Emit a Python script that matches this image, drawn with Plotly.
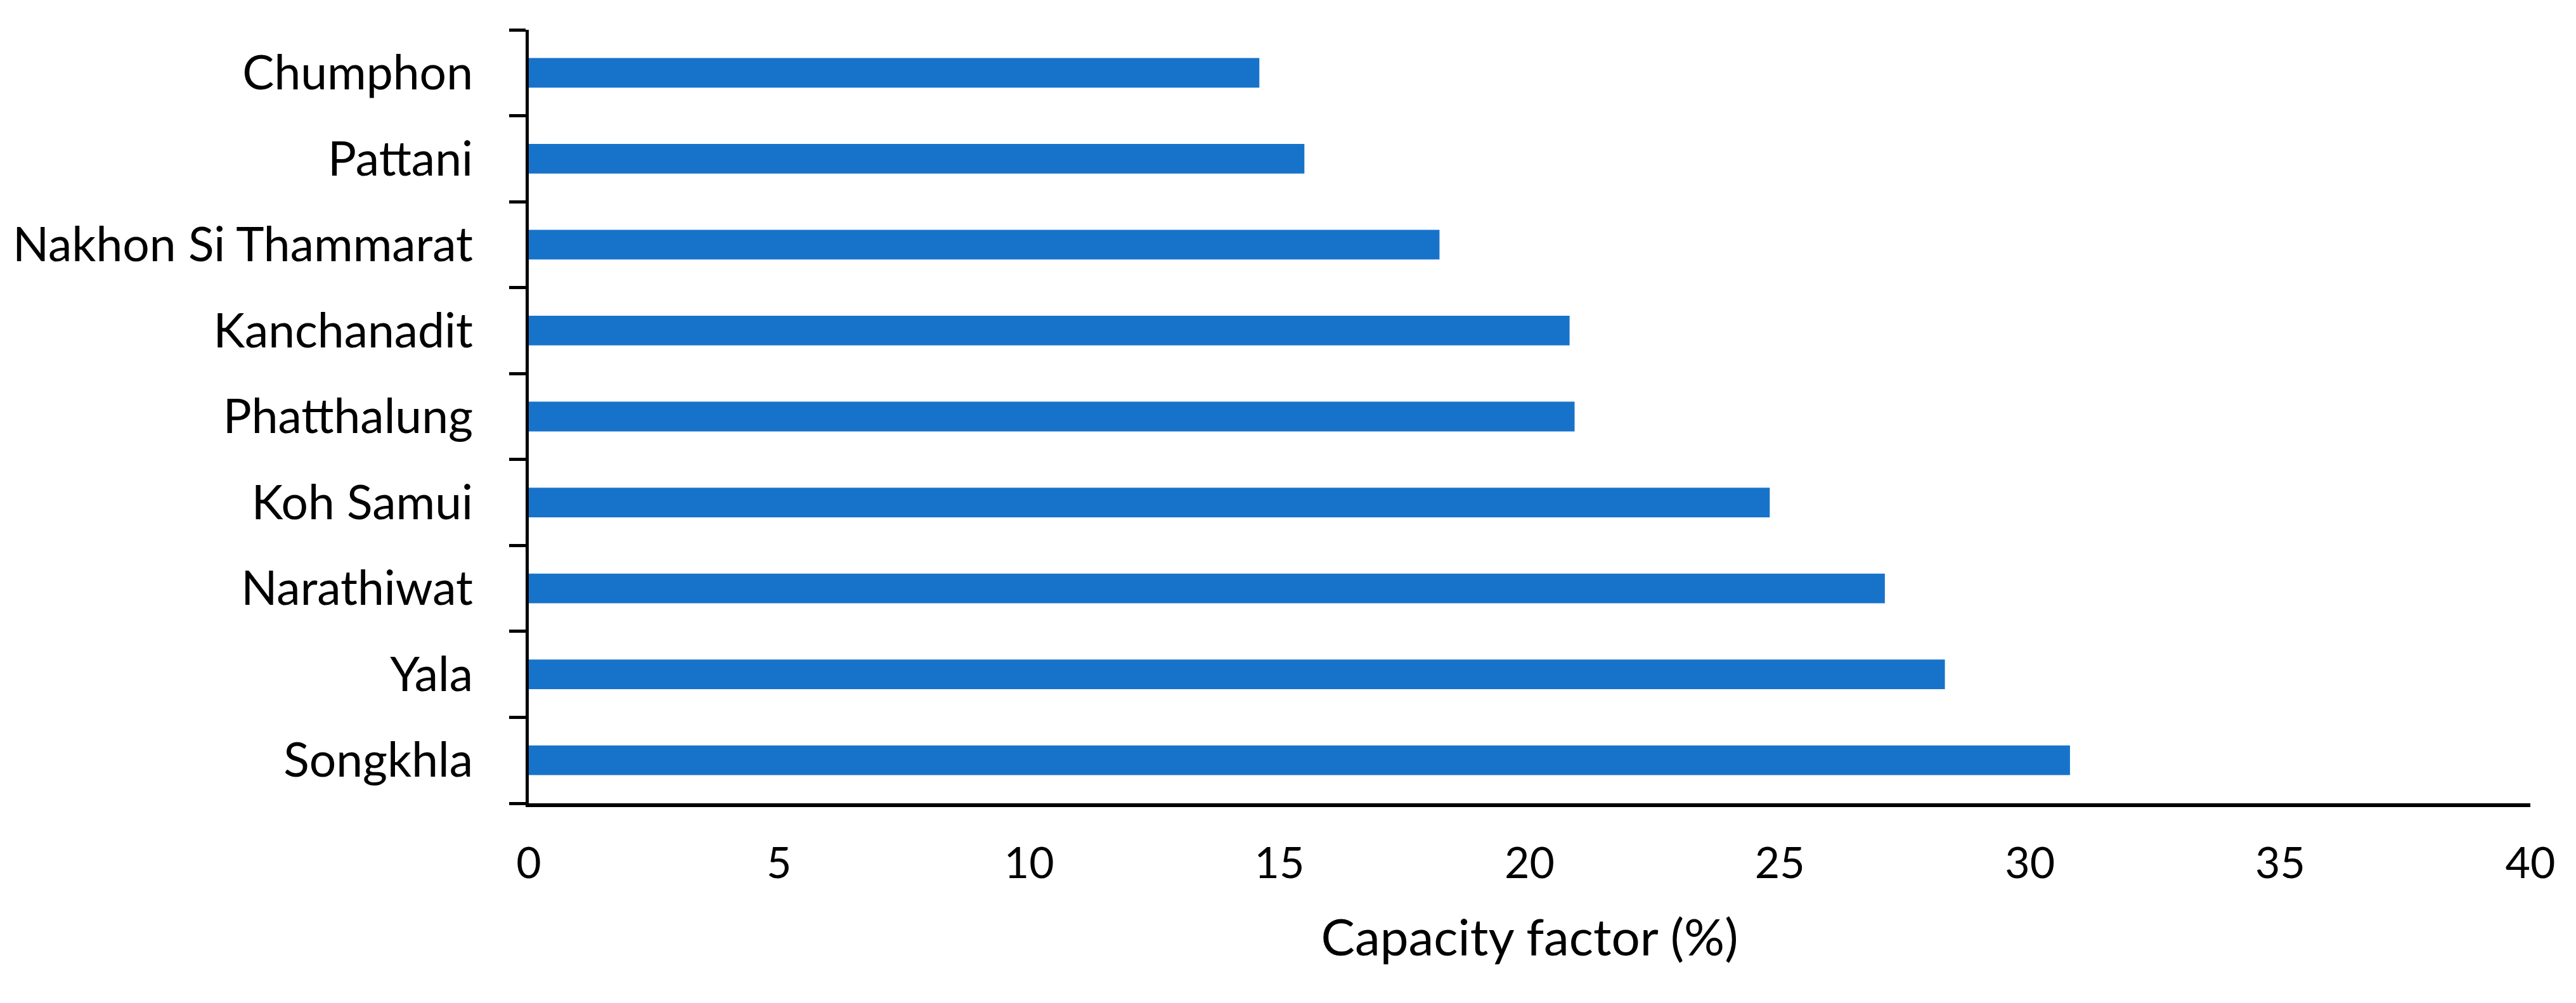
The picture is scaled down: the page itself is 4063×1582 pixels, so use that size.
import plotly.graph_objects as go

regions = ["Songkhla", "Yala", "Narathiwat", "Koh Samui", "Phatthalung",
           "Kanchanadit", "Nakhon Si Thammarat", "Pattani", "Chumphon"]
capacity_factor = [30.8, 28.3, 27.1, 24.8, 20.9, 20.8, 18.2, 15.5, 14.6]
x_ticks = [0, 5, 10, 15, 20, 25, 30, 35, 40]
x_title = "Capacity factor (%)"

FONT = "Lato"

fig = go.Figure()
fig.add_trace(go.Bar(
    y=regions, x=capacity_factor, orientation="h",
    marker=dict(color="#1773CA", line=dict(width=0)),
    showlegend=False,
))

fig.update_layout(
    width=4063, height=1582,
    margin=dict(l=821, r=80, t=39, b=323),
    paper_bgcolor="white", plot_bgcolor="white",
    bargap=0.655,
    font=dict(family=FONT, size=64, color="black"),
)
fig.update_xaxes(
    range=[0, 40], tickvals=x_ticks, ticktext=[str(v) for v in x_ticks],
    showgrid=False, zeroline=False,
    showline=True, linecolor="black", linewidth=6,
    ticks="", ticklabelstandoff=30,
    tickfont=dict(family=FONT, size=68, color="black"),
    title=dict(text=x_title, standoff=55, font=dict(family=FONT, size=80, color="black")),
)
fig.update_yaxes(
    type="category", categoryorder="array", categoryarray=regions,
    range=[-0.5, len(regions) - 0.5],
    showgrid=False, zeroline=False,
    showline=True, linecolor="black", linewidth=5,
    ticks="outside", tickson="boundaries", ticklen=26, tickwidth=5, tickcolor="black",
    ticklabelstandoff=68,
    tickfont=dict(family=FONT, size=75, color="black"),
)

fig.write_html("out.html")
